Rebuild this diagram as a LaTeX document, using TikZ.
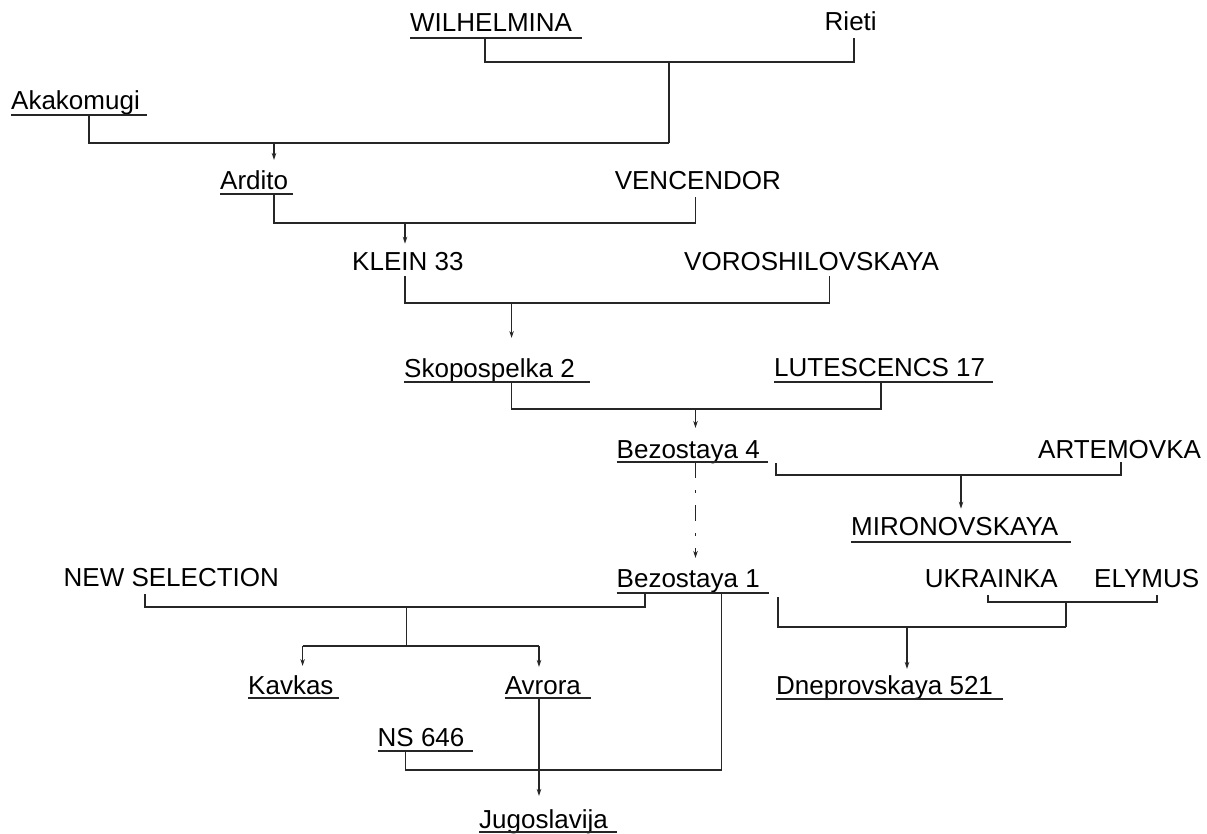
\documentclass[tikz,border=0pt]{standalone}
\usepackage{fontspec}
\setmainfont{Liberation Sans}
\usetikzlibrary{arrows.meta}
\begin{document}
\begin{tikzpicture}[x=1pt,y=-1pt,
  lbl/.style={inner sep=0pt, anchor=base west, font=\fontsize{26}{30}\selectfont},
  link/.style={line width=1.3pt, draw=black!85},
  arr/.style={link, -{Stealth[length=7pt,width=4.5pt]}},
  dlink/.style={arr, dash pattern=on 16pt off 12pt on 3pt off 12pt},
  ulline/.style={line width=1.5pt, draw=black!85}]
\useasboundingbox (0,0) rectangle (1207,834);

% cultivars
\node[lbl] (wil)  at (410,32)    {WILHELMINA};
\node[lbl] (rie)  at (824.5,31)  {Rieti};
\node[lbl] (aka)  at (11,110)    {Akakomugi};
\node[lbl] (ard)  at (220,190)   {Ardito};
\node[lbl] (ven)  at (614.6,190) {VENCENDOR};
\node[lbl] (kle)  at (352,271)   {KLEIN 33};
\node[lbl] (vor)  at (684,271)   {VOROSHILOVSKAYA};
\node[lbl] (sko)  at (404,377)   {Skopospelka 2};
\node[lbl] (lut)  at (774,376)   {LUTESCENCS 17};
\node[lbl] (bz4)  at (616.5,458) {Bezostaya 4};
\node[lbl] (art)  at (1038,458)  {ARTEMOVKA};
\node[lbl] (mir)  at (851,535)   {MIRONOVSKAYA};
\node[lbl] (nsel) at (63.5,586)  {NEW SELECTION};
\node[lbl] (bz1)  at (616.5,587) {Bezostaya 1};
\node[lbl] (ukr)  at (924.6,587) {UKRAINKA};
\node[lbl] (ely)  at (1094,587)  {ELYMUS};
\node[lbl] (kav)  at (248,694)   {Kavkas};
\node[lbl] (avr)  at (504.6,694) {Avrora};
\node[lbl] (dne)  at (776,694)   {Dneprovskaya 521};
\node[lbl] (ns)   at (377.5,746) {NS 646};
\node[lbl] (jug)  at (479,828)   {Jugoslavija};

% underlines
\foreach \n/\d/\l in {wil/6/172, aka/5/136, ard/4/73, sko/5/186, lut/6/219,
  bz4/4/151, mir/7/220, bz1/6/152, kav/4/91, avr/4/86, dne/5/227, ns/5/95, jug/4/138}
  \draw[ulline] ([yshift=-\d pt]\n.base west) -- ++(\l,0);

% junction points
\coordinate (wilD) at (485,38);
\coordinate (rieD) at (854,38);
\coordinate (j1) at (669,62);
\coordinate (akaD) at (89,115);
\coordinate (j2) at (669,143);
\coordinate (a2) at (274,143);
\coordinate (ardD) at (274,194);
\coordinate (venD) at (695.5,197);
\coordinate (j3) at (405,223);
\coordinate (kleD) at (405,276);
\coordinate (vorD) at (829.5,276);
\coordinate (j4) at (511.6,303);
\coordinate (skoD) at (511.6,382);
\coordinate (lutD) at (881,382);
\coordinate (j5) at (695.5,409);
\coordinate (bz4D) at (695.5,462);
\coordinate (bz4R) at (776,463);
\coordinate (artD) at (1121,462);
\coordinate (j6) at (961,475);
\coordinate (nselD) at (145,594);
\coordinate (bz1L) at (645,593);
\coordinate (j7) at (406.5,607);
\coordinate (j8) at (406.5,646);
\coordinate (kavA) at (302.6,646);
\coordinate (avrA) at (539,646);
\coordinate (bz1R) at (778,597);
\coordinate (ukrD) at (988,595);
\coordinate (elyD) at (1157,595);
\coordinate (j9) at (1066,602);
\coordinate (j10) at (907,627);
\coordinate (j10r) at (1066,627);
\coordinate (avrD) at (539,698);
\coordinate (nsD) at (405.6,751);
\coordinate (j11) at (721.6,770);
\coordinate (bz1M) at (721.6,594);

% connectors
\draw[link] (wilD) -- (wilD |- j1) -| (rieD);
\draw[link] (j1) -- (j2);
\draw[link] (akaD) |- (j2);
\draw[arr, shorten >=11pt] (a2) -- (a2 |- ard.north);

\draw[link] (ardD) -- (ardD |- j3) -| (venD);
\draw[arr, shorten >=9pt] (j3) -- (j3 |- kle.north);

\draw[link] (kleD) -- (kleD |- j4) -| (vorD);
\draw[arr, shorten >=20pt] (j4) -- (j4 |- sko.north);

\draw[link] (skoD) -- (skoD |- j5) -| (lutD);
\draw[arr, shorten >=12pt] (j5) -- (j5 |- bz4.north);

\draw[dlink, shorten >=11pt] (bz4D) -- (bz4D |- bz1.north);

\draw[link] (bz4R) -- (bz4R |- j6) -| (artD);
\draw[arr, shorten >=8pt] (j6) -- (j6 |- mir.north);

\draw[link] (nselD) -- (nselD |- j7) -| (bz1L);
\draw[link] (j7) -- (j8);
\draw[link] (kavA) -- (avrA);
\draw[arr, shorten >=9pt] (kavA) -- (kavA |- kav.north);
\draw[arr, shorten >=9pt] (avrA) -- (avrA |- avr.north);

\draw[link] (ukrD) -- (ukrD |- j9) -| (elyD);
\draw[link] (j9) -- (j10r);
\draw[link] (bz1R) |- (j10r);
\draw[arr, shorten >=6pt] (j10) -- (j10 |- dne.north);

\draw[link] (nsD) |- (j11) -- (bz1M);
\draw[arr, shorten >=13pt] (avrD) -- (avrD |- jug.north);
\end{tikzpicture}
\end{document}
